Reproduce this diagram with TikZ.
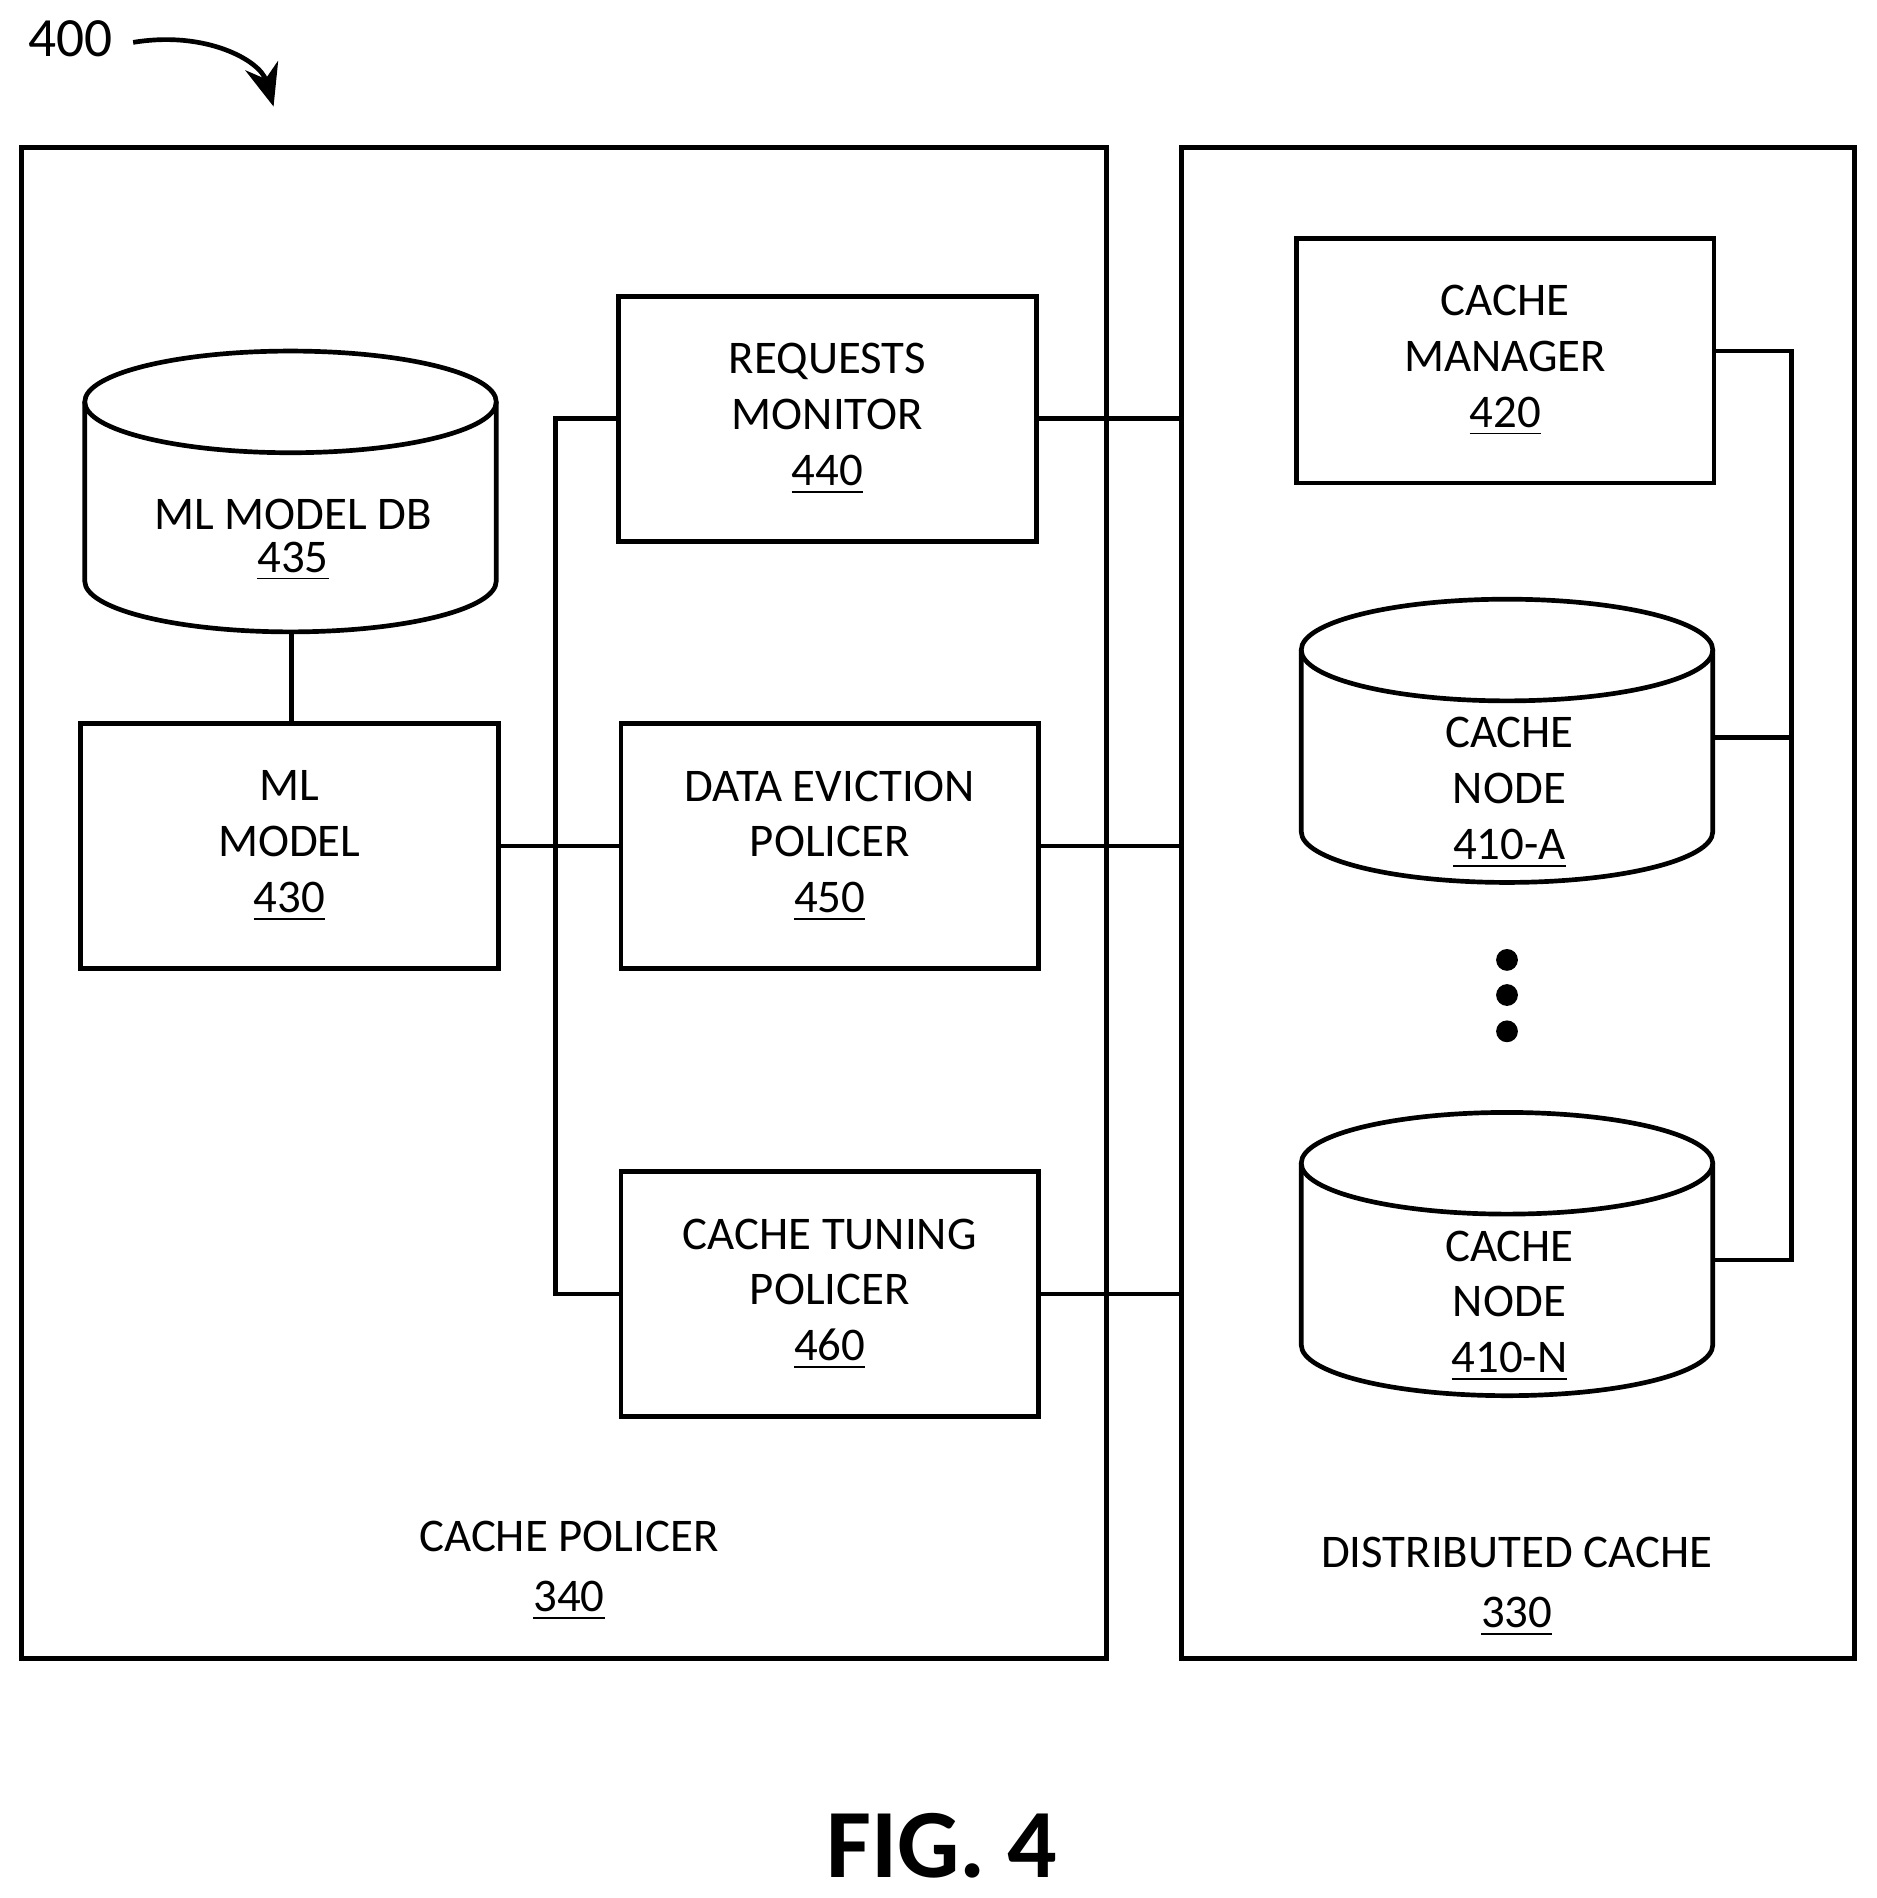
\documentclass[tikz,border=0pt]{standalone}
\usepackage{fontspec}
\setmainfont{Carlito}
\usetikzlibrary{arrows.meta}

\begin{document}
\begin{tikzpicture}[x=0.01cm, y=-0.01cm, line width=1.1pt,
	font=\fontsize{11}{13.1}\selectfont,
	lbl/.style={align=center, inner sep=0pt},
	box/.style={draw, minimum width=3.45cm, minimum height=2.02cm, align=center, inner sep=0pt}]
		\useasboundingbox (0,0) rectangle (1550,1568);
		% outer frames
		\draw (18,122) rectangle (914,1370);
		\draw (976,122) rectangle (1532,1370);
		\node[lbl] (pol) at (470,1298) {CACHE POLICER\\[1pt]\underline{340}};
		\node[lbl] (dist) at (1253,1311) {DISTRIBUTED CACHE\\[1pt]\underline{330}};
		% model db
		\draw (70,332) -- (70,480) arc[start angle=180, end angle=0, x radius=170, y radius=42] -- (410,332);
		\draw (240,332) ellipse[x radius=170, y radius=42];
		\node[lbl] (db) at (242,446) {ML MODEL DB\\[-3pt]\underline{435}};
		\coordinate (dbb) at (241,522);
		% boxes
		\node[box] (ml) at (239,699) {ML\\MODEL\\\underline{430}};
		\node[box] (req) at (683.5,346) {REQUESTS\\MONITOR\\\underline{440}};
		\node[box] (evi) at (685.5,699) {DATA EVICTION\\POLICER\\\underline{450}};
		\node[box] (tun) at (685.5,1069) {CACHE TUNING\\POLICER\\\underline{460}};
		\node[box] (mgr) at (1243.5,298) {CACHE\\MANAGER\\\underline{420}};
		% cache nodes
		\foreach \n/\y/\t in {na/537/410-A, nn/961/410-N}{
			\draw (1075,\y) -- (1075,\y+150) arc[start angle=180, end angle=0, x radius=170, y radius=42] -- (1415,\y);
			\draw (1245,\y) ellipse[x radius=170, y radius=42];
			\node[lbl] (\n) at (1247,\y+118) {CACHE\\NODE\\\underline{\t}};
		}
		\foreach \y in {793,822,852}
			\fill (1245,\y) circle (9);
		% connectors
		\draw (dbb) -- (241,598);
		\draw (ml.east) -- (evi.west);
		\draw (req.west) -- ++(-50,0) |- (tun.west);
		\draw (req.east) -- (976,346);
		\draw (evi.east) -- (976,699);
		\draw (tun.east) -- (976,1069);
		\draw (1416,290) -| (1480,1041) -- (1415,1041);
		\draw (1415,609) -- (1480,609);
		% labels
		\node (num) at (58,32) {\fontsize{13}{15}\selectfont 400};
		\draw[-{Stealth[length=10pt,width=8pt]}] (110,35) .. controls (170,25) and (215,50) .. (226,88);
		\node (fig) at (778,1525) {\fontsize{23}{26}\selectfont\bfseries FIG. 4};
\end{tikzpicture}
\end{document}
